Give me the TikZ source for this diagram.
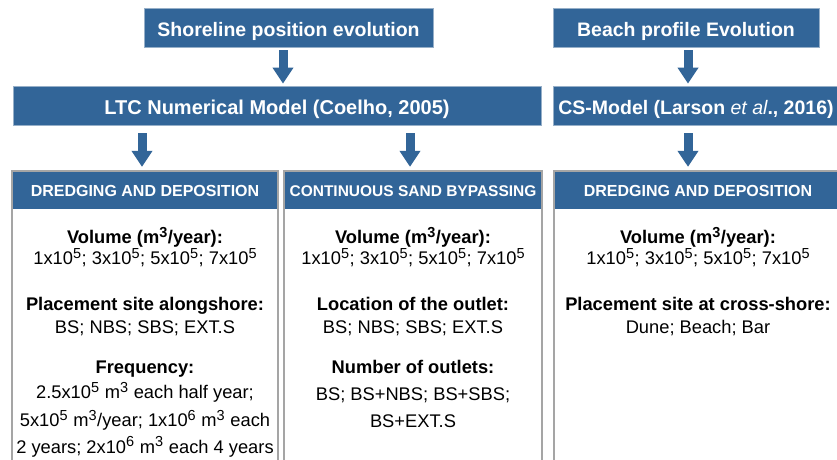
\documentclass[tikz,border=0pt]{standalone}
\usepackage{fontspec}
\setmainfont{Liberation Sans}
\usetikzlibrary{arrows.meta}
\definecolor{mblue}{RGB}{50,101,152}
\definecolor{medge}{RGB}{150,175,200}
\definecolor{pgray}{RGB}{165,165,165}
\newcommand\supx[1]{\raisebox{6.3pt}{\fontsize{14.5}{15}\selectfont #1}\hspace{0.6pt}}
\begin{document}
\begin{tikzpicture}[x=1pt,y=-1pt,
  topbox/.style={fill=mblue, draw=medge, line width=0.8pt, text=white,
    font=\bfseries\fontsize{19.5}{22}\selectfont, inner sep=0pt,
    minimum height=39pt, text depth=0pt},
  hdrbox/.style={fill=mblue, draw=none, text=white, inner sep=0pt,
    minimum height=39pt, text height=14.4pt, text depth=0pt},
  panelbox/.style={draw=pgray, line width=2.2pt, fill=none, inner sep=0pt,
    minimum height=320pt},
  bigarrow/.style={draw=mblue, line width=9pt, -{Triangle[width=20pt,length=16pt]}},
  lbl/.style={anchor=base, inner sep=0pt, font=\bfseries\fontsize{18.3}{21}\selectfont},
  val/.style={anchor=base, inner sep=0pt, font=\fontsize{18.3}{21}\selectfont},
]
\useasboundingbox (0,0) rectangle (837,459);
\fill[white] (0,0) rectangle (837,459);

% top row
\node[topbox, minimum width=289pt, text height=17pt] (sh) at (288.5,27.5) {Shoreline position evolution\hspace{12pt}};
\node[topbox, minimum width=266pt, text height=17pt] (bp) at (686,27.5) {Beach profile Evolution};
% models
\node[topbox, minimum width=528pt, text height=18pt, font=\bfseries\fontsize{20}{22}\selectfont] (ltc) at (277,105.5) {LTC Numerical Model (Coelho, 2005)};
\node[topbox, minimum width=286pt, text height=18pt] (cs) at (696,105.5) {CS-Model (Larson {\mdseries\itshape et al}., 2016)};

% panel headers
\node[hdrbox, minimum width=266pt, font=\bfseries\fontsize{16}{19}\selectfont] (h1) at (145,189.5) {DREDGING AND DEPOSITION};
\node[hdrbox, minimum width=258pt, font=\bfseries\fontsize{15.5}{19}\selectfont] (h2) at (413,189.5) {CONTINUOUS SAND BYPASSING};
\node[hdrbox, minimum width=288pt, font=\bfseries\fontsize{16}{19}\selectfont] (h3) at (698,189.5) {DREDGING AND DEPOSITION};
% panel frames
\node[panelbox, minimum width=266pt, anchor=north] (p1) at (h1.north) {};
\node[panelbox, minimum width=258pt, anchor=north] (p2) at (h2.north) {};
\node[panelbox, minimum width=288pt, anchor=north] (p3) at (h3.north) {};

% arrow columns
\coordinate (c1) at (283,0);
\coordinate (c2) at (688,0);
\coordinate (c3) at (142,0);
\coordinate (c4) at (410,0);
\draw[bigarrow, shorten <=3pt, shorten >=2pt] (sh.south -| c1) -- (ltc.north -| c1);
\draw[bigarrow, shorten <=3pt, shorten >=2pt] (bp.south -| c2) -- (cs.north -| c2);
\draw[bigarrow, shorten <=8pt, shorten >=3pt] (ltc.south -| c3) -- (h1.north -| c3);
\draw[bigarrow, shorten <=8pt, shorten >=3pt] (ltc.south -| c4) -- (h2.north -| c4);
\draw[bigarrow, shorten <=8pt, shorten >=3pt] (cs.south -| c2) -- (h3.north -| c2);

% left panel text
\node[lbl] (a1) at (145,243.5) {Volume (m\supx{3}/year):};
\node[val] (a2) at (145,264.5) {1x10\supx{5}; 3x10\supx{5}; 5x10\supx{5}; 7x10\supx{5}};
\node[lbl] (a3) at (145,310.5) {Placement site alongshore:};
\node[val] (a4) at (145,333) {BS; NBS; SBS; EXT.S};
\node[lbl] (a5) at (145,373) {Frequency:};
\node[val] (a6) at (145,398.5) {2.5x10\supx{5} m\supx{3} each half year;};
\node[val] (a7) at (145,426.5) {5x10\supx{5} m\supx{3}/year; 1x10\supx{6} m\supx{3} each};
\node[val] (a8) at (145,453) {2 years; 2x10\supx{6} m\supx{3} each 4 years};

% middle panel text
\node[lbl] (b1) at (413,243.5) {Volume (m\supx{3}/year):};
\node[val] (b2) at (413,264.5) {1x10\supx{5}; 3x10\supx{5}; 5x10\supx{5}; 7x10\supx{5}};
\node[lbl] (b3) at (413,310) {Location of the outlet:};
\node[val] (b4) at (413,333) {BS; NBS; SBS; EXT.S};
\node[lbl] (b5) at (413,373.5) {Number of outlets:};
\node[val] (b6) at (413,400.5) {BS; BS+NBS; BS+SBS;};
\node[val] (b7) at (413,427.5) {BS+EXT.S};

% right panel text
\node[lbl] (d1) at (698,243.5) {Volume (m\supx{3}/year):};
\node[val] (d2) at (698,264.5) {1x10\supx{5}; 3x10\supx{5}; 5x10\supx{5}; 7x10\supx{5}};
\node[lbl] (d3) at (698,310.5) {Placement site at cross-shore:};
\node[val] (d4) at (698,333) {Dune; Beach; Bar};
\end{tikzpicture}
\end{document}
